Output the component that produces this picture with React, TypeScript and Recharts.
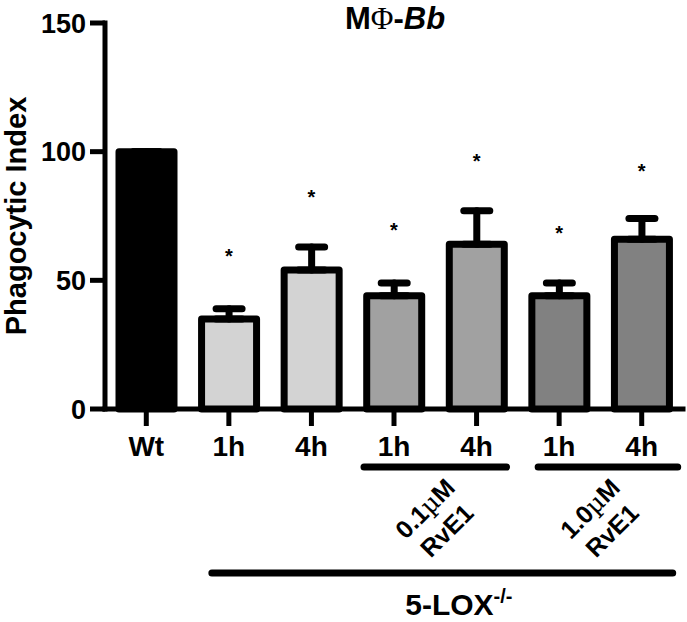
import { Bar, Cell, ComposedChart, ErrorBar, Line, XAxis, YAxis } from "recharts";

const W = 687;
const H = 622;

// bar order: Wt, then 5-LOX-/- untreated, + 0.1uM RvE1, + 1.0uM RvE1
const labels = ["Wt", "1h", "4h", "1h", "4h", "1h", "4h"];
const means = [100, 35, 54, 44, 64, 44, 66];
const sems = [0, 4, 9, 5, 13, 5, 8];
const stars: (number | null)[] = [null, 61, 84, 71, 98, 70, 94];
const fills = ["#000000", "#d3d3d3", "#d3d3d3", "#a1a1a1", "#a1a1a1", "#818181", "#818181"];
const yTicks = [0, 50, 100, 150];
const doses = ["0.1", "1.0"]; // RvE1 concentrations, bars 3-4 and 5-6

const data = labels.map((l, i) => ({
  key: `c${i}`,
  mean: means[i],
  err: [0, sems[i]],
  star: stars[i],
}));

const FONT = "'Liberation Sans', Arial, Helvetica, sans-serif";
const STEP = (W - 105 - 4) / labels.length;

// bracket extents relative to the first / last tick of each group
const bracketExt = [
  [-30, 30],
  [-21, 36],
];

function XTick(props: any) {
  const { x, y, payload } = props;
  const i: number = props.index ?? payload?.index ?? 0;
  const g = i === 3 ? 0 : i === 5 ? 1 : -1;
  return (
    <g>
      <text
        x={x}
        y={y}
        dy="0.71em"
        textAnchor="middle"
        fontFamily={FONT}
        fontWeight="bold"
        fontSize={28}
        fill="#000"
      >
        {labels[i]}
      </text>
      {g >= 0 && (
        <g>
          <line
            x1={x + bracketExt[g][0]}
            x2={x + STEP + bracketExt[g][1]}
            y1={y + 31}
            y2={y + 31}
            stroke="#000"
            strokeWidth={7}
            strokeLinecap="round"
          />
          <g transform={`translate(${x + STEP / 2},${y + 83}) rotate(-45)`}>
            <text
              x={0}
              y={-6}
              textAnchor="middle"
              fontFamily={FONT}
              fontWeight="bold"
              fontSize={25}
              fill="#000"
            >
              {doses[g]}
              <tspan fontFamily="'DejaVu Serif', serif" fontWeight="normal">
                µ
              </tspan>
              M
            </text>
            <text
              x={0}
              y={25}
              textAnchor="middle"
              fontFamily={FONT}
              fontWeight="bold"
              fontSize={25}
              fill="#000"
            >
              RvE1
            </text>
          </g>
        </g>
      )}
      {i === 1 && (
        <g>
          <line
            x1={x - 17}
            x2={x + 5 * STEP + 31}
            y1={y + 137}
            y2={y + 137}
            stroke="#000"
            strokeWidth={7}
            strokeLinecap="round"
          />
          <text
            x={x + 230}
            y={y + 179}
            textAnchor="middle"
            fontFamily={FONT}
            fontWeight="bold"
            fontSize={30}
            fill="#000"
          >
            5-LOX
            <tspan fontSize={20} dy={-12}>
              -/-
            </tspan>
          </text>
        </g>
      )}
    </g>
  );
}

function StarDot(props: any) {
  const { cx, cy, value, index } = props;
  if (value == null || cx == null || cy == null) return <g key={`s${index}`} />;
  return (
    <text
      key={`s${index}`}
      x={cx}
      y={cy + 11}
      textAnchor="middle"
      fontFamily={FONT}
      fontWeight="bold"
      fontSize={20}
      fill="#000"
    >
      *
    </text>
  );
}

export default function App() {
  return (
    <div style={{ position: "absolute", left: 0, top: 0, width: W, height: H, background: "#fff" }}>
      <ComposedChart width={W} height={H} data={data} margin={{ top: 23, right: 4, left: 0, bottom: 0 }}>
        <text x={395} y={28.5} textAnchor="middle" fontFamily={FONT} fontWeight="bold" fontSize={31} fill="#000">
          M
          <tspan fontFamily="'Liberation Serif', serif" fontWeight="normal">
            Φ
          </tspan>
          -<tspan fontStyle="italic">Bb</tspan>
        </text>
        <XAxis
          dataKey="key"
          interval={0}
          height={213}
          tickSize={17}
          tickMargin={10}
          tick={<XTick />}
          axisLine={{ stroke: "#000", strokeWidth: 5, strokeLinecap: "square" }}
          tickLine={{ stroke: "#000", strokeWidth: 5 }}
        />
        <YAxis
          width={105}
          domain={[0, 150]}
          ticks={yTicks}
          interval={0}
          tickSize={15}
          tickMargin={4}
          tick={{ fontFamily: FONT, fontWeight: "bold", fontSize: 27, fill: "#000" }}
          axisLine={{ stroke: "#000", strokeWidth: 5, strokeLinecap: "square" }}
          tickLine={{ stroke: "#000", strokeWidth: 5 }}
          label={{
            content: ({ viewBox }: any) => {
              const cy = viewBox.y + viewBox.height / 2;
              return (
                <text
                  x={16}
                  y={cy}
                  transform={`rotate(-90, 16, ${cy})`}
                  dy="0.36em"
                  textAnchor="middle"
                  fontFamily={FONT}
                  fontWeight="bold"
                  fontSize={29}
                  fill="#000"
                >
                  Phagocytic Index
                </text>
              );
            },
          }}
        />
        <Bar
          dataKey="mean"
          barSize={55}
          stroke="#000"
          strokeWidth={7}
          strokeLinejoin="round"
          isAnimationActive={false}
        >
          {data.map((d, i) => (
            <Cell key={d.key} fill={fills[i]} />
          ))}
          <ErrorBar
            dataKey="err"
            direction="y"
            width={13}
            stroke="#000"
            strokeWidth={7}
            strokeLinecap="round"
            isAnimationActive={false}
          />
        </Bar>
        <Line
          dataKey="star"
          stroke="none"
          dot={StarDot}
          activeDot={false}
          connectNulls={false}
          isAnimationActive={false}
        />
      </ComposedChart>
    </div>
  );
}
